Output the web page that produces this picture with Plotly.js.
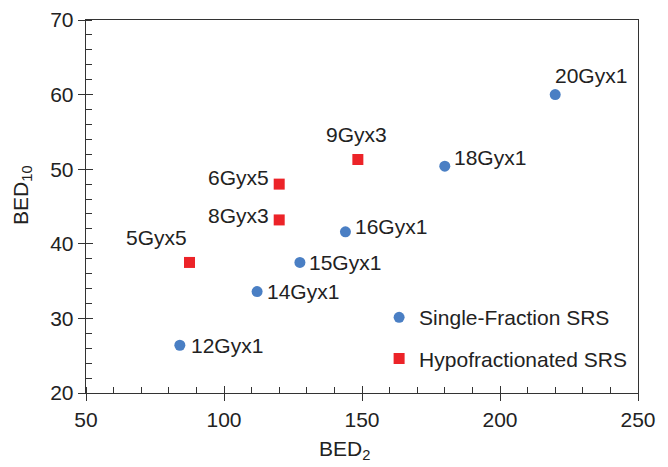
<!DOCTYPE html>
<html><head><meta charset="utf-8">
<script src="https://cdn.plot.ly/plotly-3.0.1.min.js"></script>
<style>html,body{margin:0;padding:0;background:#fff}#chart{width:668px;height:467px}</style>
</head><body><div id="chart"></div>
<script>
// Single-fraction SRS
const singleLabels = ["12Gyx1","14Gyx1","15Gyx1","16Gyx1","18Gyx1","20Gyx1"];
const singleBED2  = [84, 112, 127.5, 144, 180, 220];
const singleBED10 = [26.4, 33.6, 37.5, 41.6, 50.4, 60];
// Hypofractionated SRS
const hypoLabels = ["5Gyx5","6Gyx5","8Gyx3","9Gyx3"];
const hypoBED2  = [87.5, 120, 120, 148.5];
const hypoBED10 = [37.5, 48, 43.2, 51.3];

const FONT = "Liberation Sans, Arial, sans-serif";
const blue = "#4a7fc4", red = "#ec2328", ink = "#222";
const FS = 21;

// label placement style (anchor side, pixel offset x, pixel offset up) per label
const singlePlace = [["left",11,0],["left",10,0],["left",9,0],["left",10,5.5],["left",9,9],["left",0,19]];
const hypoPlace   = [["right",-3,24.5],["right",-10,7],["right",-10,4],["center",-1.5,25]];

function labelAnns(xs, ys, labels, place) {
  return labels.map((t, i) => ({
    text: t, x: xs[i], y: ys[i], xref: "x", yref: "y",
    xanchor: place[i][0], yanchor: "middle", xshift: place[i][1], yshift: place[i][2],
    showarrow: false, borderpad: 0, borderwidth: 0, font: {size: FS, color: ink}
  }));
}

const traces = [
  {x: singleBED2, y: singleBED10, type:"scatter", mode:"markers", name:"Single-Fraction SRS",
   marker:{color:blue, size:11, symbol:"circle"}, legendgroup:"a"},
  {x: hypoBED2, y: hypoBED10, type:"scatter", mode:"markers", name:"Hypofractionated SRS",
   marker:{color:red, size:11, symbol:"square"}, legendgroup:"b"},
  {x:[], y:[], xaxis:"x2", yaxis:"y2", showlegend:false, hoverinfo:"skip"}
];

const axCommon = {showgrid:false, zeroline:false, linecolor:"#333", linewidth:1.3, tickcolor:"#333",
                  tickfont:{size:FS, color:ink}};
const layout = {
  width:668, height:467,
  margin:{l:86, r:30, t:20, b:74},
  paper_bgcolor:"#fff", plot_bgcolor:"#fff",
  font:{family:FONT, size:FS, color:ink},
  showlegend:true,
  legend:{x:0.531, xanchor:"left", y:0.257, yanchor:"top", bgcolor:"rgba(0,0,0,0)",
          font:{size:FS, color:ink}, traceorder:"grouped", tracegroupgap:11, itemwidth:30},
  xaxis: Object.assign({}, axCommon, {range:[50,250], dtick:50, tick0:50, ticks:"outside", ticklen:7,
          mirror:true, minor:{dtick:10, tick0:50, ticks:"inside", ticklen:6, tickcolor:"#333"}}),
  yaxis: Object.assign({}, axCommon, {range:[20,70], dtick:10, tick0:20, ticks:"outside", ticklen:7,
          mirror:true, minor:{dtick:2, tick0:20, ticks:"inside", ticklen:6, tickcolor:"#333"}}),
  xaxis2: Object.assign({}, axCommon, {overlaying:"x", matches:"x", range:[50,250], dtick:50, tick0:50,
          ticks:"inside", ticklen:7, showticklabels:false, showline:false}),
  yaxis2: Object.assign({}, axCommon, {overlaying:"y", matches:"y", range:[20,70], dtick:10, tick0:20,
          ticks:"inside", ticklen:7, showticklabels:false, showline:false}),
  annotations: [
    {text:"BED<sub>2</sub>", xref:"paper", yref:"paper", x:0.469, y:-0.153, xanchor:"center", yanchor:"middle",
     showarrow:false, font:{size:FS, color:ink}},
    {text:"BED<sub>10</sub>", xref:"paper", yref:"paper", x:-0.116, y:0.531, xanchor:"center", yanchor:"middle",
     textangle:-90, showarrow:false, font:{size:FS, color:ink}}
  ].concat(labelAnns(singleBED2, singleBED10, singleLabels, singlePlace),
           labelAnns(hypoBED2, hypoBED10, hypoLabels, hypoPlace))
};
Plotly.newPlot("chart", traces, layout, {displayModeBar:false, staticPlot:true});
</script></body></html>
